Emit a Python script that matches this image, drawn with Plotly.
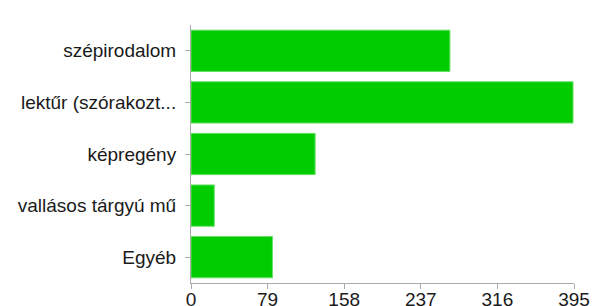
import plotly.graph_objects as go

categories = ["szépirodalom", "lektűr (szórakozt...", "képregény", "vallásos tárgyú mű", "Egyéb"]
values = [267, 394, 128, 24, 84]
tick_vals = [0, 79, 158, 237, 316, 395]
tick_text = ["0", "79", "158", "237", "316", "395"]

fig = go.Figure(go.Bar(
    x=values, y=categories, orientation="h",
    marker=dict(color="#00cc00", line=dict(color="#66e066", width=1)),
    hoverinfo="x+y",
))

fig.update_layout(
    width=592, height=306,
    margin=dict(l=191, r=18, t=25, b=23),
    paper_bgcolor="white", plot_bgcolor="white",
    font=dict(family="Liberation Sans, Arial, sans-serif", size=19, color="#1a1a1a"),
    bargap=0.2,
    showlegend=False,
)
fig.update_xaxes(
    range=[0, 395], tickvals=tick_vals, ticktext=tick_text, automargin=False,
    showgrid=False, zeroline=False, showline=True, linecolor="#aaaaaa", linewidth=1,
    ticks="outside", ticklen=5, tickcolor="#aaaaaa", fixedrange=True,
    ticklabelstandoff=-6,
)
fig.update_yaxes(
    autorange="reversed", showgrid=False, zeroline=False, automargin=False,
    showline=True, linecolor="#aaaaaa", linewidth=1,
    ticks="outside", ticklen=5, tickcolor="#aaaaaa", fixedrange=True,
    ticklabelstandoff=5,
)

fig.write_html(
    "out.html",
    config={"displayModeBar": False},
    post_script="document.body.style.margin='0';document.body.style.overflow='hidden';",
)
